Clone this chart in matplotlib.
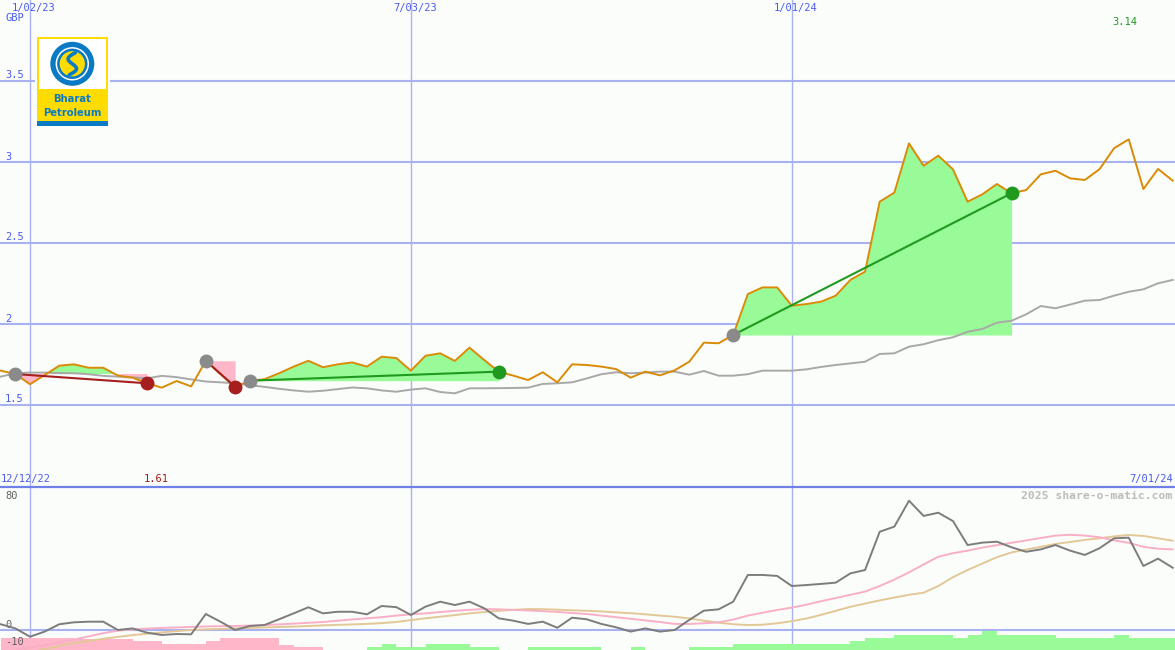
import numpy as np
import pandas as pd
import matplotlib
matplotlib.use("Agg")
import matplotlib.pyplot as plt
import matplotlib.dates as mdates
import matplotlib.transforms as mtrans
from matplotlib.patches import Rectangle, Circle

# ---------------- data ----------------
dates = pd.date_range("2022-12-19", periods=81, freq="7D")

price = [1.712, 1.691, 1.628, 1.685, 1.743, 1.751, 1.730, 1.730, 1.681, 1.669,
         1.634, 1.607, 1.648, 1.615, 1.773, 1.691, 1.612, 1.650, 1.659, 1.696,
         1.737, 1.773, 1.733, 1.751, 1.763, 1.737, 1.798, 1.790, 1.712, 1.804,
         1.819, 1.772, 1.854, 1.778, 1.706, 1.681, 1.654, 1.702, 1.640, 1.751,
         1.747, 1.737, 1.722, 1.669, 1.706, 1.683, 1.714, 1.767, 1.885, 1.881,
         1.932, 2.185, 2.226, 2.226, 2.113, 2.123, 2.138, 2.175, 2.272, 2.323,
         2.755, 2.811, 3.115, 2.977, 3.039, 2.955, 2.755, 2.800, 2.864, 2.807,
         2.827, 2.924, 2.946, 2.899, 2.889, 2.955, 3.085, 3.140, 2.833, 2.957,
         2.885]

price_ma = [1.675, 1.696, 1.700, 1.700, 1.697, 1.696, 1.690, 1.680, 1.675, 1.670,
            1.665, 1.680, 1.672, 1.658, 1.645, 1.640, 1.634, 1.622, 1.612, 1.600,
            1.590, 1.582, 1.588, 1.598, 1.608, 1.603, 1.590, 1.582, 1.595, 1.603,
            1.580, 1.572, 1.603, 1.603, 1.604, 1.605, 1.607, 1.630, 1.634, 1.640,
            1.664, 1.690, 1.702, 1.696, 1.700, 1.706, 1.706, 1.687, 1.710, 1.681,
            1.681, 1.690, 1.712, 1.712, 1.712, 1.720, 1.735, 1.747, 1.757, 1.767,
            1.815, 1.819, 1.860, 1.875, 1.900, 1.918, 1.952, 1.969, 2.008, 2.020,
            2.060, 2.111, 2.097, 2.120, 2.144, 2.148, 2.175, 2.199, 2.214, 2.251,
            2.272]

osc = [3.6, 1.0, -4.2, -1.0, 3.6, 4.8, 5.2, 5.2, 0.0, 1.0,
       -1.7, -3.1, -2.5, -2.7, 10.0, 5.2, 0.0, 2.5, 3.1, 6.7,
       10.4, 14.2, 10.4, 11.4, 11.4, 9.8, 15.0, 14.3, 9.4, 14.6,
       17.7, 15.6, 17.7, 13.6, 7.3, 5.8, 3.8, 5.2, 1.4, 7.7,
       6.7, 3.8, 1.7, -1.0, 1.0, -1.0, 0.0, 6.3, 12.1, 12.9,
       17.7, 34.4, 34.4, 33.8, 27.5, 28.1, 28.8, 29.6, 35.4, 37.5,
       61.4, 64.6, 80.8, 71.3, 73.3, 68.1, 53.1, 54.6, 55.2, 51.7,
       48.9, 50.4, 53.1, 49.6, 46.9, 51.1, 57.3, 57.7, 40.0, 44.6,
       38.9]

osc_fast = [-14.0, -12.5, -11.0, -9.5, -7.8, -6.0, -4.0, -2.0, -0.4, 0.4,
            0.9, 1.3, 1.6, 1.9, 2.2, 2.4, 2.5, 2.8, 3.1, 3.5,
            4.0, 4.5, 5.0, 5.8, 6.6, 7.3, 8.0, 9.0, 9.8, 10.4,
            11.2, 12.0, 12.6, 13.1, 12.9, 12.6, 12.2, 11.8, 11.3, 10.6,
            10.0, 9.0, 8.0, 7.0, 6.0, 5.0, 3.8, 3.8, 4.2, 4.8,
            6.5, 9.0, 10.8, 12.5, 14.0, 15.8, 18.0, 20.0, 22.0, 24.0,
            27.5, 31.5, 36.0, 41.0, 45.8, 48.0, 49.6, 51.5, 53.0, 54.5,
            56.0, 57.5, 59.0, 59.5, 59.0, 58.0, 56.0, 54.5, 52.0, 50.8,
            50.4]

osc_slow = [-18.0, -16.0, -14.0, -12.0, -10.0, -8.2, -6.8, -5.5, -4.3, -3.2,
            -2.3, -1.5, -0.7, 0.0, 0.4, 0.7, 1.0, 1.3, 1.6, 1.9,
            2.1, 2.5, 2.9, 3.2, 3.5, 3.8, 4.3, 5.0, 6.2, 7.3,
            8.3, 9.3, 10.4, 11.2, 12.0, 12.6, 13.1, 13.0, 12.7, 12.3,
            12.0, 11.6, 11.0, 10.5, 9.8, 9.0, 8.3, 7.2, 5.8, 4.6,
            3.6, 3.1, 3.3, 4.2, 5.5, 7.2, 9.5, 12.0, 14.5, 16.5,
            18.5, 20.3, 22.0, 23.3, 27.5, 33.0, 37.5, 41.5, 45.5, 48.5,
            50.3, 52.0, 53.8, 55.0, 56.3, 57.3, 58.5, 59.4, 58.8, 57.3,
            55.8]

hist = [-7.7, -7.7, -7.7, -7.7, -7.7, -6.7, -6.7, -6.7, -6.7, -5.6,
        -5.6, -3.75, -3.75, -3.75, -5.6, -7.3, -7.3, -7.3, -7.3, -3.1,
        -1.7, -1.7, 0, 0, 0, 1.7, 3.6, 1.7, 1.7, 3.6,
        3.6, 3.6, 1.7, 1.7, 0, 0, 1.7, 1.7, 1.7, 1.7,
        1.7, 0, 0, 1.7, 0, 0, 0, 1.7, 1.7, 1.7,
        3.6, 3.6, 3.6, 3.6, 3.6, 3.6, 3.6, 3.6, 5.6, 7.7,
        7.7, 9.4, 9.4, 9.4, 9.4, 7.7, 9.4, 12.0, 9.4, 9.4,
        9.4, 9.4, 7.7, 7.7, 7.7, 7.7, 9.4, 7.7, 7.7, 7.7,
        7.7]

trade_entries = ["2022-12-26", "2023-03-27", "2023-04-17", "2023-12-04"]
trade_exits = ["2023-02-27", "2023-04-10", "2023-08-14", "2024-04-15"]

grid_dates = ["2023-01-02", "2023-07-03", "2024-01-01"]
grid_labels = ["1/02/23", "7/03/23", "1/01/24"]
price_ticks = [1.5, 2, 2.5, 3, 3.5]
price_tick_labels = ["1.5", "2", "2.5", "3", "3.5"]
osc_ticks = [80, 0, -10]
osc_tick_labels = ["80", "0", "-10"]
range_labels = ["12/12/22", "7/01/24"]
currency = "GBP"
credit = "2025 share-o-matic.com"

# ---------------- style ----------------
W, H, DPI = 1175, 650, 100
BG = "#fbfdfb"
GRID = "#a9b2f0"
SEP = "#6f80e8"
BLUE_TXT = "#4a5af0"
ORANGE = "#d98b06"
MA_GRAY = "#a8a8a8"
OSC_GRAY = "#7c7c7c"
PINK_LINE = "#f9afc6"
TAN_LINE = "#e2c897"
FILL_GREEN = "#98fb98"
FILL_PINK = "#ffb6c8"
RED = "#a61e1e"
GREEN = "#1f9a1f"
MARK_GRAY = "#8a8a8a"
MONO = "DejaVu Sans Mono"
FS = 7.5

x = mdates.date2num(dates)
price = np.array(price)
step = x[1] - x[0]
xlim = (x[0] - 0.048 * step, x[-1] + 0.157 * step)

fig = plt.figure(figsize=(W / DPI, H / DPI), dpi=DPI, facecolor=BG)
ax = fig.add_axes([0, 163 / H, 1, 487 / H])
axb = fig.add_axes([0, 0, 1, 162 / H])

for a in (ax, axb):
    a.set_facecolor(BG)
    for s in a.spines.values():
        s.set_visible(False)
    a.set_xlim(*xlim)
    a.set_xticks(mdates.date2num(pd.to_datetime(grid_dates)))
    a.tick_params(length=0, labelbottom=False, labelleft=False)
    a.grid(axis="x", color=GRID, lw=1.0)
    a.set_axisbelow(True)

ax.set_ylim(1.5 - (487 - 405) / 162, 1.5 + 405 / 162)
ax.set_yticks(price_ticks)
ax.grid(axis="y", color=GRID, lw=1.5)

axb.set_ylim(-12.5, 88.75)
axb.set_yticks([0])
axb.grid(axis="y", color=GRID, lw=1.5)

# ---- upper panel: trade fills
idx = {d: i for i, d in enumerate(dates)}
for e, xo in zip(trade_entries, trade_exits):
    a_i = idx[pd.Timestamp(e)]
    b_i = idx[pd.Timestamp(xo)]
    xs = x[a_i:b_i + 1]
    ps = price[a_i:b_i + 1]
    lvl = price[a_i]
    ax.fill_between(xs, ps, lvl, where=ps >= lvl, interpolate=True,
                    color=FILL_GREEN, lw=0, zorder=1)
    ax.fill_between(xs, ps, lvl, where=ps <= lvl, interpolate=True,
                    color=FILL_PINK, lw=0, zorder=1)

ax.plot(x, price_ma, color=MA_GRAY, lw=1.4, zorder=2)
ax.plot(x, price, color=ORANGE, lw=1.4, zorder=3)

for e, xo in zip(trade_entries, trade_exits):
    a_i = idx[pd.Timestamp(e)]
    b_i = idx[pd.Timestamp(xo)]
    col = GREEN if price[b_i] > price[a_i] else RED
    ax.plot([x[a_i], x[b_i]], [price[a_i], price[b_i]], color=col, lw=1.5, zorder=4)
    ax.plot(x[a_i], price[a_i], "o", ms=10, color=MARK_GRAY, mec="none", zorder=5)
    ax.plot(x[b_i], price[b_i], "o", ms=10, color=col, mec="none", zorder=5)

# ---- lower panel
hist = np.array(hist)
ylo = axb.get_ylim()[0]
axb.bar(x, np.abs(hist), width=step, bottom=ylo, align="edge",
        color=np.where(hist < 0, FILL_PINK, FILL_GREEN), lw=0, zorder=1)
axb.plot(x, osc_slow, color=TAN_LINE, lw=1.4, zorder=2)
axb.plot(x, osc_fast, color=PINK_LINE, lw=1.4, zorder=3)
axb.plot(x, osc, color=OSC_GRAY, lw=1.4, zorder=4)

# separator between panels
fig.add_artist(plt.Line2D([0, 1], [1 - 487 / H, 1 - 487 / H], color=SEP, lw=1.6,
                          transform=fig.transFigure, zorder=10))

# ---------------- text ----------------
def ftext(x_px, y_px, s, **kw):
    fig.text(x_px / W, 1 - y_px / H, s, family=MONO, fontsize=FS, va="center", **kw)

def xtext(a, xval, y_px, s, dx=0, **kw):
    tr = mtrans.blended_transform_factory(a.transData, fig.transFigure)
    tr = mtrans.offset_copy(tr, fig=fig, x=dx, y=0, units="dots")
    a.text(xval, 1 - y_px / H, s, transform=tr, family=MONO, fontsize=FS,
           va="center", ha="center", clip_on=False, **kw)

def ytext(a, yval, s, dy=5.5, **kw):
    tr = mtrans.blended_transform_factory(fig.transFigure, a.transData)
    tr = mtrans.offset_copy(tr, fig=fig, x=0, y=dy, units="dots")
    a.text(5 / W, yval, s, transform=tr, family=MONO, fontsize=FS,
           va="center", ha="left", clip_on=False, **kw)

for d, lab in zip(grid_dates, grid_labels):
    xtext(ax, mdates.date2num(pd.Timestamp(d)), 8, lab, dx=4, color=BLUE_TXT)
for t, lab in zip(price_ticks, price_tick_labels):
    ytext(ax, t, lab, color=BLUE_TXT)
ftext(5, 18, currency, color=BLUE_TXT, ha="left")

imax = int(np.argmax(price))
imin = int(np.argmin(price))
xtext(ax, x[imax], 22, f"{price[imax]:.2f}", dx=-4, color="#1f9a1f")
xtext(ax, x[imin], 479, f"{price[imin]:.2f}", dx=-6, color=RED)

ftext(1, 479, range_labels[0], color=BLUE_TXT, ha="left")
ftext(1173, 479, range_labels[1], color=BLUE_TXT, ha="right")
fig.text(1172 / W, 1 - 496 / H, credit, family=MONO, fontsize=8.2, fontweight="bold",
         color="#bcbcbc", ha="right", va="center")

for t, lab, dy in zip(osc_ticks, osc_tick_labels, [6, 5, 4]):
    ytext(axb, t, lab, dy=dy, color="#606060")

# ---------------- logo ----------------
lg = fig.add_axes([34.7 / W, 1 - 128 / H, 75 / W, 92.7 / H], zorder=20)
lg.set_xlim(-2, 73)
lg.set_ylim(90.7, -2)
lg.axis("off")
lg.add_patch(Rectangle((-2, -2), 75, 92.7, color=BG, lw=0))
lg.add_patch(Rectangle((0, 0), 71, 88.7, color="#ffdc00", lw=0))
lg.add_patch(Rectangle((2.6, 2.0), 66.7, 50, color="white", lw=0))
lg.add_patch(Rectangle((0, 83.4), 71, 5.3, color="#0a7ac4", lw=0))
cx, cy = 35.6, 26.5
lg.add_patch(Circle((cx, cy), 22, color="#0a7ac4", lw=0))
lg.add_patch(Circle((cx, cy), 16.7, color="white", lw=0))
lg.add_patch(Circle((cx, cy), 15.2, color="#0a7ac4", lw=0))
lg.add_patch(Circle((cx, cy), 12.6, color="#ffdc00", lw=0))
t = np.linspace(0, 1, 60)
sx = cx + 7 * np.sin(np.pi * (2 * t - 1)) * 0.8 + (t - 0.5) * -6
sy = cy - 11 + 22 * t
lg.plot(sx, sy, color="#0a7ac4", lw=2.6, solid_capstyle="round")
lg.text(cx, 62, "Bharat", ha="center", va="center", fontsize=7.2,
        fontweight="bold", color="#0a7ac4", family="DejaVu Sans")
lg.text(cx, 76, "Petroleum", ha="center", va="center", fontsize=7.2,
        fontweight="bold", color="#0a7ac4", family="DejaVu Sans")

fig.savefig("out.png", dpi=DPI, facecolor=BG)
